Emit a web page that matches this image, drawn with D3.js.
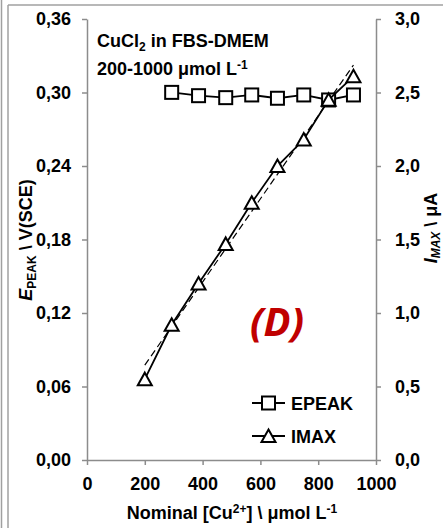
<!DOCTYPE html>
<html>
<head>
<meta charset="utf-8">
<script src="https://cdn.jsdelivr.net/npm/d3@7"></script>
<style>
  body { margin: 0; background: #fff; }
  svg text { font-family: "Liberation Sans", Arial, sans-serif; font-weight: bold; }
</style>
</head>
<body>
<svg id="chart" width="443" height="528"></svg>
<script>
//
// Data
//
var conc = [200, 293, 386, 480, 570, 659, 750, 836, 922]
var epeak = [null, 0.3001, 0.2974, 0.2958, 0.2980, 0.2953, 0.2980, 0.2939, 0.2980]
var imax = [0.55, 0.92, 1.20, 1.47, 1.75, 2.00, 2.18, 2.45, 2.61]
var xTicks = [0, 200, 400, 600, 800, 1000]
var yLeftTicks = [0, 0.06, 0.12, 0.18, 0.24, 0.30, 0.36]
var yRightTicks = [0, 0.5, 1.0, 1.5, 2.0, 2.5, 3.0]

//
// Layout
//
var plotLeft = 87, plotRight = 376, plotTop = 19, plotBottom = 460
var axisColor = '#8c8c8c'
var fontSize = 18

var svg = d3.select('#chart')
var x = d3.scaleLinear().domain([0, 1000]).range([plotLeft, plotRight])
var yL = d3.scaleLinear().domain([0, 0.36]).range([plotBottom, plotTop])
var yR = d3.scaleLinear().domain([0, 3]).range([plotBottom, plotTop])

function comma(fmt) {
    var f = d3.format(fmt)
    return function (d) { return f(d).replace('.', ',') }
}

// outer frame lines of the panel
svg.append('line').attr('x1', 1.5).attr('x2', 1.5).attr('y1', 0).attr('y2', 528)
    .attr('stroke', '#a0a0a0').attr('stroke-width', 1.5)
svg.append('line').attr('x1', 8).attr('x2', 8).attr('y1', 5).attr('y2', 528)
    .attr('stroke', '#a0a0a0').attr('stroke-width', 1.5)
svg.append('line').attr('x1', 8).attr('x2', 443).attr('y1', 5).attr('y2', 5)
    .attr('stroke', '#a0a0a0').attr('stroke-width', 1.5)

//
// Axes
//
function styleAxis(g) {
    g.selectAll('path').attr('stroke', axisColor).attr('stroke-width', 1.5)
    g.selectAll('line').attr('stroke', axisColor).attr('stroke-width', 1.5)
    g.selectAll('text').attr('fill', '#000').style('font-size', fontSize + 'px')
        .style('font-family', '"Liberation Sans", Arial, sans-serif').style('font-weight', 'bold')
}

svg.append('g').attr('transform', 'translate(0,' + plotBottom + ')')
    .call(d3.axisBottom(x).tickValues(xTicks).tickFormat(d3.format('d')).tickSize(5).tickSizeOuter(0).tickPadding(12))
    .call(styleAxis)

svg.append('g').attr('transform', 'translate(' + plotLeft + ',0)')
    .call(d3.axisLeft(yL).tickValues(yLeftTicks).tickFormat(comma('.2f')).tickSize(5).tickSizeOuter(0).tickPadding(11))
    .call(styleAxis)

svg.append('g').attr('transform', 'translate(' + plotRight + ',0)')
    .call(d3.axisRight(yR).tickValues(yRightTicks).tickFormat(comma('.1f')).tickSize(5).tickSizeOuter(0).tickPadding(14))
    .call(styleAxis)

// axis titles
var xt = svg.append('text').attr('x', 232).attr('y', 519).attr('text-anchor', 'middle')
    .style('font-size', fontSize + 'px')
xt.append('tspan').text('Nominal [Cu')
xt.append('tspan').text('2+').attr('dy', -6).style('font-size', '12px')
xt.append('tspan').text('] \\ \u03bcmol L').attr('dy', 6)
xt.append('tspan').text('-1').attr('dy', -6).style('font-size', '12px')

var ylt = svg.append('text').attr('transform', 'translate(32,240) rotate(-90)')
    .attr('text-anchor', 'middle').style('font-size', fontSize + 'px')
ylt.append('tspan').text('E').style('font-style', 'italic')
ylt.append('tspan').text('PEAK').attr('dy', 4).style('font-size', '12px')
ylt.append('tspan').text(' \\ V(SCE)').attr('dy', -4)

var yrt = svg.append('text').attr('transform', 'translate(437,228) rotate(-90)')
    .attr('text-anchor', 'middle').style('font-size', fontSize + 'px')
yrt.append('tspan').text('I').style('font-style', 'italic')
yrt.append('tspan').text('MAX').attr('dy', 3).style('font-size', '12px').style('font-style', 'italic')
yrt.append('tspan').text(' \\ \u03bcA').attr('dy', -3)

// annotation
var t1 = svg.append('text').attr('x', 97).attr('y', 47).style('font-size', fontSize + 'px')
t1.append('tspan').text('CuCl')
t1.append('tspan').text('2').attr('dy', 4).style('font-size', '12px')
t1.append('tspan').text(' in FBS-DMEM').attr('dy', -4)
var t2 = svg.append('text').attr('x', 97).attr('y', 75).style('font-size', fontSize + 'px')
t2.append('tspan').text('200-1000 \u03bcmol L')
t2.append('tspan').text('-1').attr('dy', -6).style('font-size', '12px')

svg.append('text').attr('x', 277).attr('y', 336).attr('text-anchor', 'middle')
    .style('font-size', '40px').style('font-style', 'italic').attr('fill', '#c00000')
    .style('font-family', '"Open Sans", sans-serif')
    .text('(D)')

//
// Series
//
var ep = conc.map(function (c, i) { return { x: c, y: epeak[i] } }).filter(function (d) { return d.y != null })
var im = conc.map(function (c, i) { return { x: c, y: imax[i] } })

// linear trend for IMAX
var mx = d3.mean(im, function (d) { return d.x }), my = d3.mean(im, function (d) { return d.y })
var sxy = d3.sum(im, function (d) { return (d.x - mx) * (d.y - my) })
var sxx = d3.sum(im, function (d) { return (d.x - mx) * (d.x - mx) })
var slope = sxy / sxx, icpt = my - slope * mx
var trendX = d3.extent(conc)

svg.append('path')
    .datum(trendX.map(function (v) { return { x: v, y: icpt + slope * v } }))
    .attr('d', d3.line().x(function (d) { return x(d.x) }).y(function (d) { return yR(d.y) }))
    .attr('fill', 'none').attr('stroke', '#000').attr('stroke-width', 1.2)
    .attr('stroke-dasharray', '7,4')

var sq = 13
var triPath = 'M0,-6.5L7,6L-7,6Z'

svg.append('path').datum(ep)
    .attr('d', d3.line().x(function (d) { return x(d.x) }).y(function (d) { return yL(d.y) }))
    .attr('fill', 'none').attr('stroke', '#000').attr('stroke-width', 1.8)
svg.selectAll('.sq').data(ep).enter().append('rect')
    .attr('x', function (d) { return x(d.x) - sq / 2 }).attr('y', function (d) { return yL(d.y) - sq / 2 })
    .attr('width', sq).attr('height', sq)
    .attr('fill', '#fff').attr('stroke', '#000').attr('stroke-width', 2)

svg.append('path').datum(im)
    .attr('d', d3.line().x(function (d) { return x(d.x) }).y(function (d) { return yR(d.y) }))
    .attr('fill', 'none').attr('stroke', '#000').attr('stroke-width', 1.8)
svg.selectAll('.tri').data(im).enter().append('path')
    .attr('transform', function (d) { return 'translate(' + x(d.x) + ',' + yR(d.y) + ')' })
    .attr('d', triPath)
    .attr('fill', '#fff').attr('stroke', '#000').attr('stroke-width', 2)

//
// Legend
//
var legend = [{ name: 'EPEAK', y: 403, mark: 'sq' }, { name: 'IMAX', y: 436, mark: 'tri' }]
legend.forEach(function (l) {
    svg.append('line').attr('x1', 252).attr('x2', 285).attr('y1', l.y).attr('y2', l.y)
        .attr('stroke', '#000').attr('stroke-width', 1.8)
    if (l.mark == 'sq') {
        svg.append('rect').attr('x', 268.5 - sq / 2).attr('y', l.y - sq / 2).attr('width', sq).attr('height', sq)
            .attr('fill', '#fff').attr('stroke', '#000').attr('stroke-width', 2)
    } else {
        svg.append('path').attr('transform', 'translate(268.5,' + l.y + ')').attr('d', triPath)
            .attr('fill', '#fff').attr('stroke', '#000').attr('stroke-width', 2)
    }
    svg.append('text').attr('x', 291).attr('y', l.y + 6.5).style('font-size', fontSize + 'px').text(l.name)
})
</script>
</body>
</html>
